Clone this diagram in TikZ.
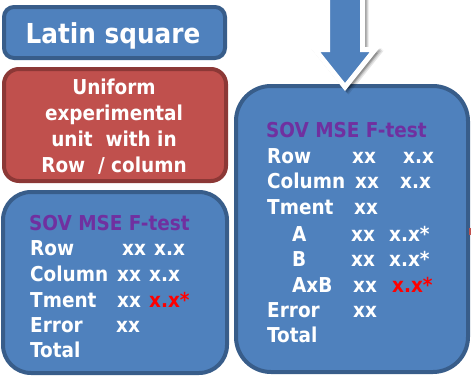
\documentclass[tikz,border=0pt]{standalone}
\usepackage{fontspec}
\usetikzlibrary{calc}
\setmainfont{DejaVu Sans Condensed}
\definecolor{boxblue}{HTML}{4F81BD}
\definecolor{boxedge}{HTML}{385D8A}
\definecolor{boxred}{HTML}{C0504D}
\definecolor{rededge}{HTML}{8C3836}
\definecolor{headpurple}{HTML}{7030A0}
\definecolor{hotred}{HTML}{FF0000}
\begin{document}
\begin{tikzpicture}[x=1pt,y=-1pt,
  panel/.style={draw=boxedge, fill=boxblue, line width=4pt, inner sep=0pt},
  redpanel/.style={draw=rededge, fill=boxred, line width=4pt, inner sep=0pt},
  cell/.style={inner sep=0pt, anchor=base west, text=white,
    font=\fontsize{20.5}{24}\selectfont\bfseries},
  head/.style={cell, text=headpurple},
  hot/.style={cell, text=hotred},
  line/.style={inner sep=0pt, anchor=base, text=white,
    font=\fontsize{20.5}{24}\selectfont\bfseries}]
\useasboundingbox (0,0) rectangle (471,375);

% panels
\node[panel, rounded corners=10pt, minimum width=221pt, minimum height=51pt] (title) at (114.5,32.5) {};
\node[redpanel, rounded corners=15pt, minimum width=222pt, minimum height=112pt] (unit) at (115,125) {};
\node[panel, rounded corners=28pt, minimum width=224pt, minimum height=181pt] (lsq) at (115,282.5) {};
\node[panel, rounded corners=35pt, minimum width=232pt, minimum height=286pt] (fact) at (352,229) {};

% small red tab at the right edge
\fill[boxred] (468.5,228) rectangle (471,235);

% downward block arrow into the factorial panel, with a soft shadow
\coordinate (tip) at (345,87);
\foreach \d/\o in {3.5/0.10, 2.5/0.12, 1.5/0.14}{
  \filldraw[black, opacity=\o, line width=5pt, line join=miter]
    (327.5+\d,-12) -- (327.5+\d,49.5+\d) -- (315+\d,49.5+\d) -- ($(tip)+(\d,\d)$)
    -- (375+\d,49.5+\d) -- (362.5+\d,49.5+\d) -- (362.5+\d,-12) -- cycle;
}
\filldraw[fill=boxblue, draw=white, line width=5pt, line join=miter]
  (327.5,-12) -- (327.5,49.5) -- (315,49.5) -- (tip) -- (375,49.5) -- (362.5,49.5) -- (362.5,-12) -- cycle;

% titles
\node[line, font=\fontsize{27.5}{32}\selectfont\bfseries] (titletxt) at (113,43) {Latin square};
\node[line] (u1) at (114,94) {Uniform};
\node[line] (u2) at (114,120) {experimental};
\node[line] (u3) at (114,146) {unit\ \ with in};
\node[line] (u4) at (114,172) {Row\ \ / column};

% Latin square ANOVA table
\node[head] (lh) at (29,230) {SOV MSE F-test};
\node[cell] (lr) at (30,255) {Row};
\node[cell] (lr2) at (122,255) {xx};
\node[cell] (lr3) at (154,255) {x.x};
\node[cell] (lc) at (30,281) {Column};
\node[cell] (lc2) at (117,281) {xx};
\node[cell] (lc3) at (149,281) {x.x};
\node[cell] (lt) at (30,307) {Tment};
\node[cell] (lt2) at (117,307) {xx};
\node[hot] (lt3) at (149,307) {x.x*};
\node[cell] (le) at (30,332) {Error};
\node[cell] (le2) at (116,332) {xx};
\node[cell] (lto) at (30,357) {Total};

% factorial ANOVA table
\node[head] (rh) at (266,137) {SOV MSE F-test};
\node[cell] (rr) at (267,163) {Row};
\node[cell] (rr2) at (352,163) {xx};
\node[cell] (rr3) at (403,163) {x.x};
\node[cell] (rc) at (267,188) {Column};
\node[cell] (rc2) at (355,188) {xx};
\node[cell] (rc3) at (400,188) {x.x};
\node[cell] (rt) at (267,214) {Tment};
\node[cell] (rt2) at (354,214) {xx};
\node[cell] (ra) at (292,241) {A};
\node[cell] (ra2) at (351,241) {xx};
\node[cell] (ra3) at (389,241) {x.x*};
\node[cell] (rb) at (292,266) {B};
\node[cell] (rb2) at (351,266) {xx};
\node[cell] (rb3) at (389,266) {x.x*};
\node[cell] (rab) at (292,292) {AxB};
\node[cell] (rab2) at (353,292) {xx};
\node[hot] (rab3) at (392,292) {x.x*};
\node[cell] (re) at (267,317) {Error};
\node[cell] (re2) at (353,317) {xx};
\node[cell] (rto) at (267,342) {Total};
\end{tikzpicture}
\end{document}
